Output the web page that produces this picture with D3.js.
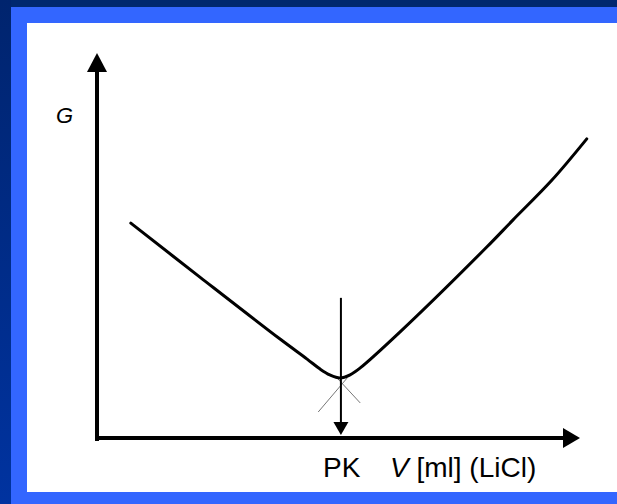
<!DOCTYPE html>
<html>
<head>
<meta charset="utf-8">
<script src="https://cdn.jsdelivr.net/npm/d3@7"></script>
<style>
  body { margin: 0; background: #fff; }
  svg { display: block; font-family: "Liberation Sans", Arial, sans-serif; }
</style>
</head>
<body>
<svg width="617" height="504"></svg>
<script>
// titration curve G vs V
var vValues = [0.70, 2.13, 3.79, 4.35, 4.62, 4.82, 5.03, 5.24, 5.45, 6.27, 8.07, 8.61, 9.42, 10.14];
var gValues = [5.58, 4.18, 2.57, 2.05, 1.79, 1.64, 1.56, 1.64, 1.82, 2.75, 4.96, 5.66, 6.70, 7.77];

// thin extrapolated branches crossing below the minimum
var leftExtV = [4.97, 5.45], leftExtG = [1.56, 0.91];
var rightExtV = [4.58, 5.18], rightExtG = [0.675, 1.56];

// end point marker (PK)
var pkV = 5.05, pkTopG = 3.64;

var xLabel = "PK", vLabel = "V", unitLabel = " [ml] (LiCl)", yLabel = "G";

var svg = d3.select("svg"),
    width = +svg.attr("width"),
    height = +svg.attr("height");

// background frame
var defs = svg.append("defs");
var grad = defs.append("linearGradient").attr("id", "side").attr("x1", 0).attr("y1", 0).attr("x2", 0).attr("y2", 1);
grad.append("stop").attr("offset", "0%").attr("stop-color", "#00246e");
grad.append("stop").attr("offset", "100%").attr("stop-color", "#0033a0");

svg.append("rect").attr("width", width).attr("height", height).attr("fill", "#3366ff");
svg.append("rect").attr("width", width).attr("height", 7).attr("fill", "#00286f");
svg.append("rect").attr("width", 11).attr("height", height).attr("fill", "url(#side)");
svg.append("rect").attr("x", 27).attr("y", 23).attr("width", width - 27).attr("height", 492 - 23).attr("fill", "#fff");

var x = d3.scaleLinear().domain([0, 10]).range([97, 580]),
    y = d3.scaleLinear().domain([0, 10]).range([438, 53]);

var g = svg.append("g");

// axes with arrow heads
g.append("line")
    .attr("x1", x(0)).attr("y1", y(0) + 3)
    .attr("x2", x(0)).attr("y2", y(10) + 15)
    .attr("stroke", "#000").attr("stroke-width", 4);
g.append("path")
    .attr("d", "M" + x(0) + "," + y(10) + "L" + (x(0) + 10) + "," + (y(10) + 19) + "L" + (x(0) - 10) + "," + (y(10) + 19) + "Z")
    .attr("fill", "#000");

g.append("line")
    .attr("x1", x(0) - 2).attr("y1", y(0))
    .attr("x2", x(10) - 14).attr("y2", y(0))
    .attr("stroke", "#000").attr("stroke-width", 4);
g.append("path")
    .attr("d", "M" + x(10) + "," + y(0) + "L" + (x(10) - 17) + "," + (y(0) - 10) + "L" + (x(10) - 17) + "," + (y(0) + 10) + "Z")
    .attr("fill", "#000");

// thin tangent extensions
var line = d3.line().x(function (d) { return x(d[0]); }).y(function (d) { return y(d[1]); });

g.append("path")
    .datum(d3.zip(leftExtV, leftExtG))
    .attr("d", line)
    .attr("fill", "none").attr("stroke", "#777").attr("stroke-width", 1);
g.append("path")
    .datum(d3.zip(rightExtV, rightExtG))
    .attr("d", line)
    .attr("fill", "none").attr("stroke", "#777").attr("stroke-width", 1);

// curve
g.append("path")
    .datum(d3.zip(vValues, gValues))
    .attr("d", line.curve(d3.curveCatmullRom.alpha(0.5)))
    .attr("fill", "none")
    .attr("stroke", "#000")
    .attr("stroke-width", 3)
    .attr("stroke-linecap", "round");

// PK arrow
var tipY = y(0) - 3;
g.append("line")
    .attr("x1", x(pkV)).attr("y1", y(pkTopG))
    .attr("x2", x(pkV)).attr("y2", tipY - 10)
    .attr("stroke", "#000").attr("stroke-width", 2);
g.append("path")
    .attr("d", "M" + x(pkV) + "," + tipY + "L" + (x(pkV) - 7.5) + "," + (tipY - 13) + "L" + (x(pkV) + 7.5) + "," + (tipY - 13) + "Z")
    .attr("fill", "#000");

// labels
g.append("text")
    .attr("x", 56).attr("y", 123)
    .attr("font-size", 22).attr("font-style", "italic")
    .text(yLabel);

g.append("text")
    .attr("x", 323).attr("y", 477)
    .attr("font-size", 28)
    .text(xLabel);

var vt = g.append("text")
    .attr("x", 390).attr("y", 477)
    .attr("font-size", 28);
vt.append("tspan").attr("font-style", "italic").text(vLabel);
vt.append("tspan").text(unitLabel);
</script>
</body>
</html>
